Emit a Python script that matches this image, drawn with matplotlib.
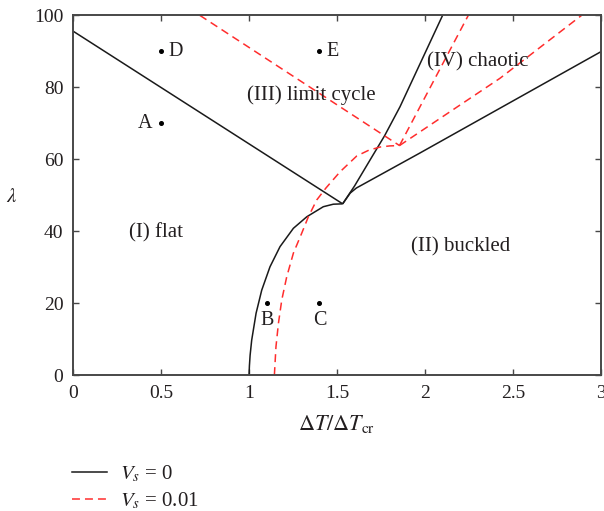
import matplotlib
matplotlib.use("Agg")
import matplotlib.pyplot as plt
from matplotlib.lines import Line2D

plt.rcParams['font.family'] = ['Liberation Serif', 'DejaVu Serif']
plt.rcParams['mathtext.fontset'] = 'stix'

# Stability boundaries for V_s = 0 (solid black)
flat_lc_x = [0.0, 1.532]
flat_lc_y = [95.6, 47.6]

flat_buckled_x = [1.0, 1.002, 1.006, 1.015, 1.040, 1.072, 1.119, 1.176, 1.252,
                  1.328, 1.422, 1.479, 1.532]
flat_buckled_y = [0.0, 2.5, 5.5, 9.7, 17.2, 23.6, 30.1, 35.7, 40.8,
                  44.0, 46.8, 47.5, 47.6]

lc_chaos_x = [1.532, 1.60, 1.70, 1.77, 1.858, 2.10]
lc_chaos_y = [47.6, 52.6, 60.8, 66.5, 74.6, 100.0]

buckled_chaos_x = [1.532, 1.575, 1.61, 1.97, 3.0]
buckled_chaos_y = [47.6, 50.6, 52.0, 61.7, 89.9]

# Stability boundaries for V_s = 0.01 (dashed red)
r_flat_lc_x = [0.72, 1.855]
r_flat_lc_y = [100.0, 63.8]

r_flat_buckled_x = [1.144, 1.153, 1.167, 1.186, 1.214, 1.252, 1.299, 1.337, 1.385,
                    1.437, 1.517, 1.612, 1.680, 1.745, 1.80, 1.855]
r_flat_buckled_y = [0.0, 7.9, 14.4, 20.9, 27.3, 33.9, 39.4, 44.0, 48.7,
                    52.0, 56.5, 60.9, 62.5, 63.4, 63.7, 63.8]

r_lc_chaos_x = [1.855, 2.246]
r_lc_chaos_y = [63.8, 100.0]

r_buckled_chaos_x = [1.855, 2.426, 2.89]
r_buckled_chaos_y = [63.8, 82.5, 100.0]

# Sample points
pt_names = ['A', 'B', 'C', 'D', 'E']
pt_x = [0.5, 1.1, 1.4, 0.5, 1.4]
pt_y = [70, 20, 20, 90, 90]

# Region labels
region_names = ['(I) flat', '(II) buckled', '(III) limit cycle', '(IV) chaotic']
region_x = [0.47, 2.205, 1.352, 2.298]
region_y = [39.5, 35.6, 77.9, 87.2]

black = '#1a1a1a'
red = '#ff2d2d'
spine_col = '#474747'
text_col = '#231f20'
dash = (0, (5.2, 3.3))

fig = plt.figure(figsize=(6.04, 5.11), dpi=100)
ax = fig.add_axes([0.121, 0.266, 0.874, 0.704])

lw = 1.1
for xs, ys in [(flat_lc_x, flat_lc_y), (flat_buckled_x, flat_buckled_y),
               (lc_chaos_x, lc_chaos_y), (buckled_chaos_x, buckled_chaos_y)]:
    ax.plot(xs, ys, color=black, lw=lw, solid_capstyle='butt', solid_joinstyle='round')

for xs, ys in [(r_flat_lc_x, r_flat_lc_y), (r_flat_buckled_x, r_flat_buckled_y),
               (r_lc_chaos_x, r_lc_chaos_y), (r_buckled_chaos_x, r_buckled_chaos_y)]:
    ax.plot(xs, ys, color=red, lw=lw, ls=dash)

ax.plot(pt_x, pt_y, 'o', color='black', ms=2.6, ls='none')

offsets = {'A': (-6, 0, 'right', 'center'),
           'B': (0, -6, 'center', 'top'),
           'C': (0, -6, 'center', 'top'),
           'D': (5, 0, 'left', 'center'),
           'E': (5, 0, 'left', 'center')}
for n, x, y in zip(pt_names, pt_x, pt_y):
    dx, dy, ha, va = offsets[n]
    ax.annotate(n, (x, y), xytext=(dx, dy), textcoords='offset points',
                ha=ha, va=va, fontsize=14.5, color=text_col)

for t, x, y in zip(region_names, region_x, region_y):
    ax.text(x, y, t, ha='center', va='center', fontsize=15, color=text_col)

ax.set_xlim(0, 3)
ax.set_ylim(0, 100)
ax.set_xticks([0, 0.5, 1, 1.5, 2, 2.5, 3])
ax.set_xticklabels(['0', '0.5', '1', '1.5', '2', '2.5', '3'])
ax.set_yticks([0, 20, 40, 60, 80, 100])
ax.tick_params(direction='in', top=True, right=True, length=4, width=1.0,
               color=spine_col, labelsize=14, labelcolor=text_col, pad=7)
for s in ax.spines.values():
    s.set_color(spine_col)
    s.set_linewidth(1.4)

ax.set_xlabel(r'$\Delta T/\Delta T_{\mathrm{cr}}$', fontsize=16, color=text_col, labelpad=8)
ax.set_ylabel(r'$\lambda$', fontsize=15, color=text_col, rotation=0,
              ha='center', va='center')
ax.yaxis.set_label_coords(-0.1155, 0.494)

handles = [Line2D([], [], color=black, lw=lw),
           Line2D([], [], color=red, lw=lw, ls=dash)]
labels = [r'$V_s$ = 0', r'$V_s$ = 0.01']
fig.legend(handles, labels, loc='upper left', bbox_to_anchor=(0.0878, 0.129),
           frameon=False, fontsize=15, handlelength=1.68, handletextpad=0.63,
           labelspacing=0.3, labelcolor=text_col)

fig.savefig('out.png', dpi=100)
